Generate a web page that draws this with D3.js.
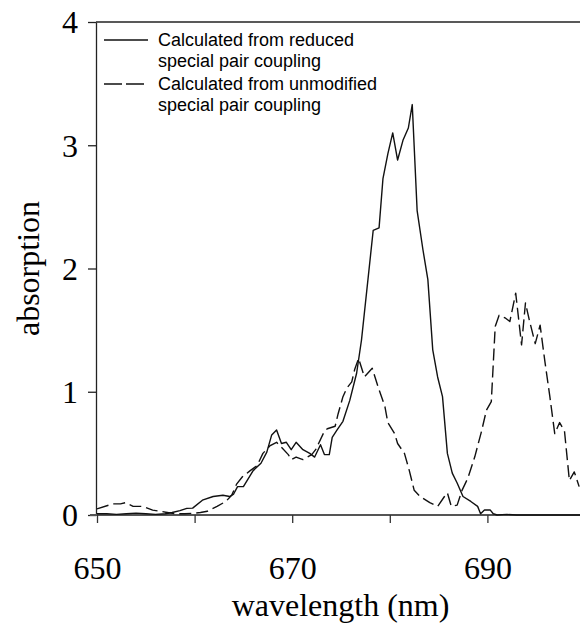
<!DOCTYPE html>
<html>
<head>
<meta charset="utf-8">
<script src="https://cdn.jsdelivr.net/npm/d3@7/dist/d3.min.js"></script>
<style>
  html, body { margin: 0; padding: 0; background: #fff; }
  svg { display: block; }
</style>
</head>
<body>
<div id="chart"></div>
<script>
// ---- Data ----
const reducedWl = [650, 651, 652, 653, 654, 655, 656, 657, 657.7, 658.5, 659.2, 659.8, 660.8, 661.9, 662.9, 663.6, 664.0, 664.4, 665.0, 666.0, 666.8, 667.4, 667.9, 668.4, 668.9, 669.4, 669.9, 670.4, 671.1, 671.8, 672.3, 672.9, 673.3, 673.8, 674.1, 674.6, 675.2, 675.9, 676.6, 677.1, 678.3, 678.9, 679.3, 679.8, 680.3, 680.8, 681.35, 681.9, 682.3, 682.8, 683.4, 683.9, 684.4, 684.9, 685.4, 685.9, 686.4, 686.9, 687.5, 688.3, 689.0, 689.3, 689.7, 690.3, 690.6, 691.0, 692.0, 693.0, 695.0, 697.0, 700.0];
const reducedAbs = [0.01, 0.01, 0.005, 0.01, 0.015, 0.01, 0.005, 0.01, 0.02, 0.035, 0.054, 0.056, 0.12, 0.15, 0.16, 0.15, 0.17, 0.23, 0.23, 0.36, 0.42, 0.51, 0.65, 0.69, 0.58, 0.59, 0.53, 0.59, 0.53, 0.50, 0.47, 0.57, 0.49, 0.49, 0.63, 0.69, 0.76, 0.93, 1.15, 1.42, 2.31, 2.33, 2.73, 2.93, 3.10, 2.88, 3.04, 3.14, 3.33, 2.47, 2.15, 1.91, 1.34, 1.12, 0.96, 0.50, 0.34, 0.26, 0.15, 0.11, 0.07, 0.01, 0.04, 0.04, 0.01, 0.0, 0.005, 0.0, 0.0, 0.0, 0.0];

const unmodWl = [650, 651.6, 652.4, 652.9, 653.7, 654.7, 655.7, 656.5, 657.2, 658, 659, 660, 660.6, 661.3, 662.3, 663.2, 663.8, 664.3, 664.9, 665.7, 666.4, 667.0, 667.7, 668.4, 668.9, 669.6, 669.9, 670.4, 671.1, 672.0, 672.4, 673.3, 673.6, 674.4, 674.7, 675.2, 675.6, 676.1, 676.4, 676.8, 677.4, 678.2, 678.8, 679.5, 679.8, 680.5, 680.8, 681.5, 682.0, 682.5, 683.1, 684.1, 684.9, 685.6, 685.9, 686.3, 686.9, 687.4, 688.0, 688.7, 689.4, 689.9, 690.4, 690.8, 691.2, 691.8, 692.3, 692.9, 693.5, 693.9, 694.3, 694.9, 695.4, 695.9, 696.4, 696.9, 697.4, 697.9, 698.4, 698.9, 699.4];
const unmodAbs = [0.05, 0.09, 0.09, 0.10, 0.07, 0.07, 0.04, 0.03, 0.02, 0.01, 0.01, 0.015, 0.02, 0.03, 0.07, 0.11, 0.16, 0.25, 0.31, 0.36, 0.40, 0.50, 0.56, 0.59, 0.55, 0.49, 0.45, 0.47, 0.45, 0.49, 0.53, 0.68, 0.70, 0.72, 0.82, 0.96, 1.03, 1.08, 1.18, 1.27, 1.12, 1.19, 1.04, 0.88, 0.75, 0.66, 0.58, 0.50, 0.36, 0.20, 0.15, 0.10, 0.07, 0.15, 0.18, 0.07, 0.08, 0.20, 0.30, 0.47, 0.68, 0.85, 0.92, 1.53, 1.62, 1.60, 1.57, 1.80, 1.38, 1.72, 1.58, 1.39, 1.54, 1.24, 0.96, 0.66, 0.75, 0.68, 0.28, 0.35, 0.23];

const xTicks = [650, 660, 670, 680, 690, 700];
const xTickLabels = ["650", "", "670", "", "690", ""];
const yTicks = [0, 1, 2, 3, 4];
const yTickLabels = ["0", "1", "2", "3", "4"];
const legendLabels = [
  ["Calculated from reduced", "special pair coupling"],
  ["Calculated from unmodified", "special pair coupling"]
];
const xTitle = "wavelength (nm)";
const yTitle = "absorption";

// ---- Layout ----
const W = 580, H = 624;
const mLeft = 96, mRight = 585, mTop = 22, mBottom = 515;

const svg = d3.select("#chart").append("svg")
  .attr("width", W).attr("height", H)
  .attr("viewBox", `0 0 ${W} ${H}`);

const x = d3.scaleLinear().domain([650, 700]).range([mLeft + 1, mRight]);
const y = d3.scaleLinear().domain([0, 4]).range([mBottom, mTop]);

const serif = "'Liberation Serif', 'Times New Roman', Times, serif";
const sans = "'Liberation Sans', Arial, Helvetica, sans-serif";

svg.append("defs").append("clipPath").attr("id", "plotclip")
  .append("rect").attr("x", mLeft).attr("y", mTop - 2)
  .attr("width", mRight - mLeft).attr("height", mBottom - mTop + 4);

// top frame line
svg.append("line")
  .attr("x1", mLeft).attr("x2", mRight)
  .attr("y1", mTop).attr("y2", mTop)
  .attr("stroke", "#222").attr("stroke-width", 1.3);

// Y axis
const yAxis = d3.axisLeft(y).tickValues(yTicks)
  .tickFormat((d, i) => yTickLabels[i]).tickSize(8).tickSizeOuter(0).tickPadding(10);
const gy = svg.append("g").attr("transform", `translate(${mLeft},0)`).call(yAxis);
gy.select(".domain").attr("stroke", "#222").attr("stroke-width", 1.3);
gy.selectAll(".tick line").attr("stroke", "#222").attr("stroke-width", 1.3);
gy.selectAll(".tick text")
  .attr("font-family", serif).attr("font-size", 32).attr("fill", "#000")
  .attr("dy", "0.34em");

// X axis
const xAxis = d3.axisBottom(x).tickValues(xTicks)
  .tickFormat((d, i) => xTickLabels[i]).tickSize(8).tickSizeOuter(0).tickPadding(56);
const gx = svg.append("g").attr("transform", `translate(0,${mBottom})`).call(xAxis);
gx.select(".domain").attr("stroke", "#555").attr("stroke-width", 2.2)
  .attr("d", `M${mLeft - 6},0H${mRight}`);
gx.selectAll(".tick line").attr("stroke", "#333").attr("stroke-width", 1.3);
gx.selectAll(".tick text")
  .attr("font-family", serif).attr("font-size", 32).attr("fill", "#000")
  .attr("dy", "0");

// Axis titles
svg.append("text")
  .attr("x", (mLeft + mRight) / 2).attr("y", 616)
  .attr("text-anchor", "middle")
  .attr("font-family", serif).attr("font-size", 32).attr("fill", "#000")
  .text(xTitle);

svg.append("text")
  .attr("transform", `translate(39,${(mTop + mBottom) / 2}) rotate(-90)`)
  .attr("text-anchor", "middle")
  .attr("font-family", serif).attr("font-size", 32).attr("fill", "#000")
  .text(yTitle);

// Lines
const line = d3.line().x(d => x(d[0])).y(d => y(d[1]));
const reducedData = reducedWl.map((w, i) => [w, reducedAbs[i]]);
const unmodData = unmodWl.map((w, i) => [w, unmodAbs[i]]);

const plot = svg.append("g").attr("clip-path", "url(#plotclip)");
plot.append("path").datum(reducedData)
  .attr("d", line).attr("fill", "none")
  .attr("stroke", "#111").attr("stroke-width", 1.4)
  .attr("stroke-linejoin", "round");
plot.append("path").datum(unmodData)
  .attr("d", line).attr("fill", "none")
  .attr("stroke", "#111").attr("stroke-width", 1.4)
  .attr("stroke-dasharray", "12,5")
  .attr("stroke-linejoin", "round");

// Legend
const lg = svg.append("g");
const legY = [40, 84];
const dashes = [null, "18,4"];
legendLabels.forEach((lines, i) => {
  lg.append("line")
    .attr("x1", 104).attr("x2", 148)
    .attr("y1", legY[i]).attr("y2", legY[i])
    .attr("stroke", "#111").attr("stroke-width", 1.4)
    .attr("stroke-dasharray", dashes[i]);
  lines.forEach((t, j) => {
    lg.append("text")
      .attr("x", 158).attr("y", legY[i] + j * 21)
      .attr("dy", "0.35em")
      .attr("font-family", sans).attr("font-size", 18).attr("fill", "#000")
      .text(t);
  });
});
</script>
</body>
</html>
